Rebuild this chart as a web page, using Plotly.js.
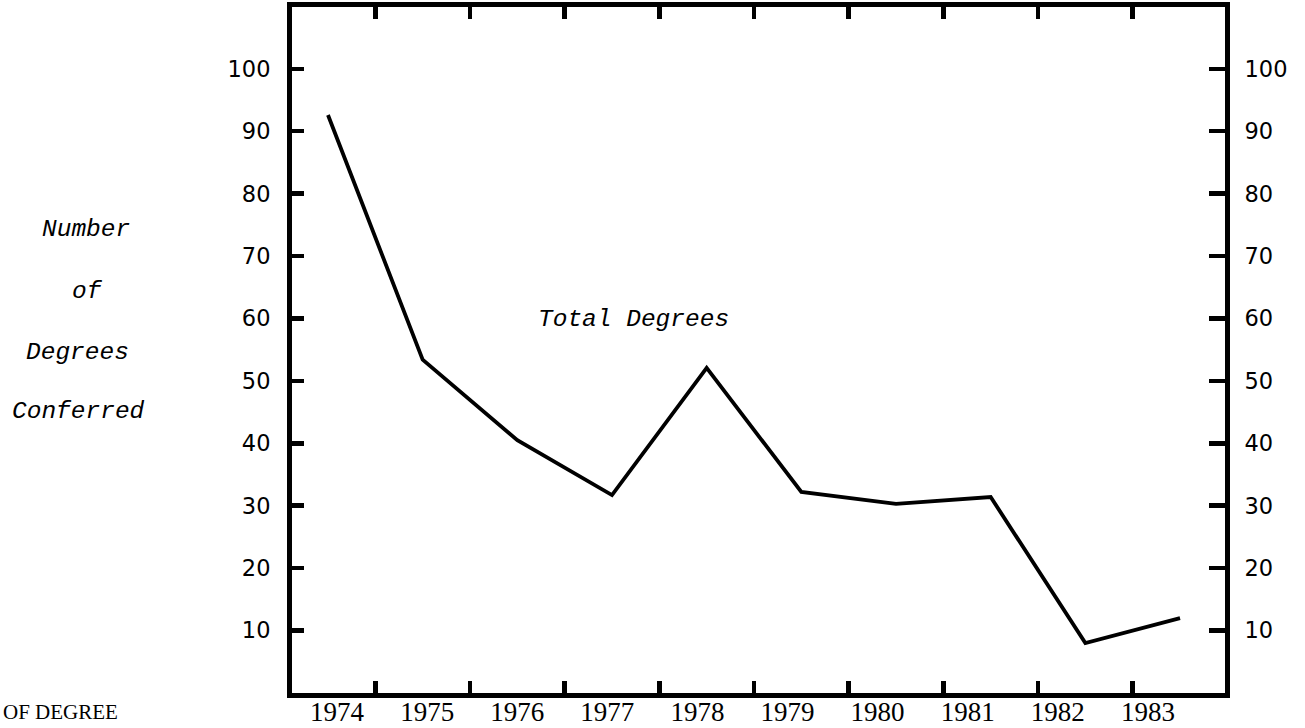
<!DOCTYPE html>
<html>
<head>
<meta charset="utf-8">
<script src="https://cdn.plot.ly/plotly-3.0.1.min.js"></script>
<style>
  html, body { margin: 0; padding: 0; background: #ffffff; }
  #chart { width: 1305px; height: 728px; }
</style>
</head>
<body>
<div id="chart"></div>
<script>
// ---- data ----
const years = [1974, 1975, 1976, 1977, 1978, 1979, 1980, 1981, 1982, 1983];
const totalDegrees = [92.6, 53.4, 40.5, 31.7, 52.1, 32.2, 30.3, 31.4, 8.0, 12.0];
const yearLabels = ['1974', '1975', '1976', '1977', '1978', '1979', '1980', '1981', '1982', '1983'];
const yTickVals = [10, 20, 30, 40, 50, 60, 70, 80, 90, 100];
const yTickText = ['10', '20', '30', '40', '50', '60', '70', '80', '90', '100'];
const yAxisTitleLines = ['Number', 'of', 'Degrees', 'Conferred'];
const seriesLabel = 'Total Degrees';
const cornerText = 'OF DEGREE';

// ---- layout geometry (pixels) ----
const W = 1305, H = 728;
const L = 292, R = 1225, T = 7, B = 693;
const px = x => (x - L) / (R - L);
const py = y => (B - y) / (B - T);

const italicFont = { family: 'Liberation Mono, Courier New, monospace', size: 24.5, color: '#000' };

// year-boundary tick marks (between the year labels)
const boundaryTicks = years.slice(0, -1).map(y => y + 0.5);

const trace = {
  x: years,
  y: totalDegrees,
  type: 'scatter',
  mode: 'lines',
  line: { color: '#000', width: 3.8 },
  hoverinfo: 'x+y',
  showlegend: false,
  xaxis: 'x',
  yaxis: 'y'
};

// empty trace so the label axis (bottom years) and the right-hand axis are built
const axisHolder = {
  x: [],
  y: [],
  type: 'scatter',
  mode: 'lines',
  showlegend: false,
  hoverinfo: 'skip',
  xaxis: 'x2',
  yaxis: 'y2'
};

const titlePos = [[86, 229], [87, 291], [77, 352], [78, 411]];
const annotations = yAxisTitleLines.map((t, i) => ({
  text: '<i>' + t + '</i>',
  xref: 'paper', yref: 'paper',
  x: px(titlePos[i][0]), y: py(titlePos[i][1]),
  xanchor: 'center', yanchor: 'middle',
  showarrow: false,
  font: italicFont
}));
annotations.push({
  text: '<i>' + seriesLabel + '</i>',
  xref: 'paper', yref: 'paper',
  x: px(633), y: py(319),
  xanchor: 'center', yanchor: 'middle',
  showarrow: false,
  font: italicFont
});
annotations.push({
  text: cornerText,
  xref: 'paper', yref: 'paper',
  x: px(2), y: py(699),
  xanchor: 'left', yanchor: 'top',
  borderpad: 0,
  showarrow: false,
  font: { family: 'Liberation Serif, serif', size: 21, color: '#000' }
});

const layout = {
  width: W, height: H,
  margin: { l: L, r: W - R, t: T, b: H - B, pad: 0 },
  paper_bgcolor: '#fff',
  plot_bgcolor: '#fff',
  showlegend: false,
  xaxis: {
    range: [1973.62, 1983.475],
    tickmode: 'array',
    tickvals: boundaryTicks,
    showticklabels: false,
    ticks: 'inside',
    ticklen: 12,
    tickwidth: 4.5,
    tickcolor: '#000',
    showline: true,
    linewidth: 5,
    linecolor: '#000',
    mirror: 'ticks',
    showgrid: false,
    zeroline: false,
    fixedrange: true
  },
  xaxis2: {
    overlaying: 'x',
    anchor: 'free',
    position: 0,
    side: 'bottom',
    range: [1973.50, 1983.856],
    tickmode: 'array',
    tickvals: years,
    ticktext: yearLabels,
    ticks: '',
    showline: false,
    showgrid: false,
    zeroline: false,
    ticklabelstandoff: 0,
    tickfont: { family: 'Liberation Serif, serif', size: 27, color: '#000' },
    fixedrange: true
  },
  yaxis: {
    range: [0, 109.9],
    tickmode: 'array',
    tickvals: yTickVals,
    ticktext: yTickText,
    ticks: 'inside',
    ticklen: 12,
    tickwidth: 4.5,
    tickcolor: '#000',
    showline: true,
    linewidth: 5,
    linecolor: '#000',
    showgrid: false,
    zeroline: false,
    ticklabelstandoff: 12,
    tickfont: { family: 'DejaVu Sans, sans-serif', size: 22.5, color: '#000' },
    fixedrange: true
  },
  yaxis2: {
    overlaying: 'y',
    anchor: 'x',
    side: 'right',
    range: [0, 109.9],
    tickmode: 'array',
    tickvals: yTickVals,
    ticktext: yTickText,
    ticks: 'inside',
    ticklen: 16,
    tickwidth: 4.5,
    tickcolor: '#000',
    showline: true,
    linewidth: 5,
    linecolor: '#000',
    showgrid: false,
    zeroline: false,
    ticklabelstandoff: 10,
    tickfont: { family: 'DejaVu Sans, sans-serif', size: 22.5, color: '#000' },
    fixedrange: true
  },
  annotations: annotations
};

Plotly.newPlot('chart', [trace, axisHolder], layout, { displayModeBar: false, staticPlot: true });
</script>
</body>
</html>
